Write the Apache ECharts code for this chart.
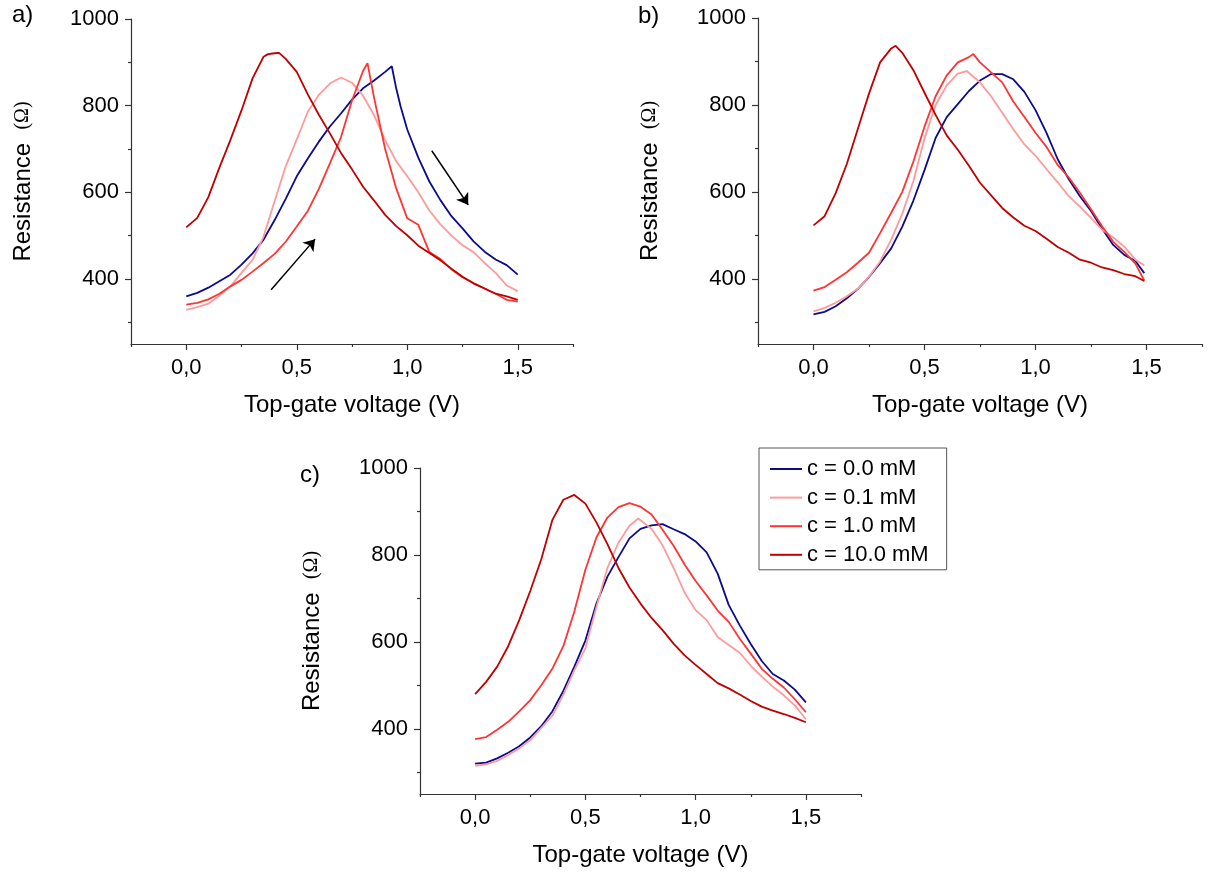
<!DOCTYPE html>
<html><head><meta charset="utf-8">
<script src="https://cdn.jsdelivr.net/npm/echarts@6/dist/echarts.min.js"></script>
<style>html,body{margin:0;padding:0;background:#fff}#c{width:1212px;height:872px}</style>
</head><body><div id="c"></div>
<script>
const seriesNames = ['c = 0.0 mM', 'c = 0.1 mM', 'c = 1.0 mM', 'c = 10.0 mM'];
const seriesColors = ['#0b0b8c', '#ff9a9a', '#ff3434', '#c00000'];
const panelLabels = ['a)', 'b)', 'c)'];
const xTitle = 'Top-gate voltage (V)';
const yTitle = 'Resistance';
const yUnit = '(Ω)';
const xMajorTicks = [0, 0.5, 1, 1.5];
const xMinorTicks = [-0.25, 0.25, 0.75, 1.25, 1.75];
const yMajorTicks = [400, 600, 800, 1000];
const yMinorTicks = [300, 500, 700, 900];

// Panel a) : [voltage, resistance]
const a_c00 = [[0,360],[0.05,368],[0.1,380],[0.15,395],[0.2,410],[0.25,433],[0.3,459],[0.35,491],[0.4,536],[0.45,585],[0.5,637],[0.55,678],[0.6,717],[0.65,752],[0.7,782],[0.75,814],[0.8,840],[0.85,858],[0.9,878],[0.93,891],[0.95,840],[0.97,798],[1.0,745],[1.05,680],[1.1,625],[1.15,582],[1.2,545],[1.25,517],[1.3,487],[1.35,463],[1.4,445],[1.45,432],[1.5,410]];
const a_c01 = [[0,329],[0.05,335],[0.1,343],[0.15,362],[0.2,383],[0.25,414],[0.3,444],[0.35,498],[0.4,580],[0.45,660],[0.5,722],[0.55,786],[0.6,825],[0.65,851],[0.7,865],[0.75,853],[0.8,823],[0.85,778],[0.9,720],[0.95,672],[1.0,637],[1.05,600],[1.1,558],[1.15,526],[1.2,500],[1.25,478],[1.3,462],[1.35,437],[1.4,414],[1.45,385],[1.5,372]];
const a_c10 = [[0,341],[0.05,345],[0.1,353],[0.15,366],[0.2,383],[0.25,398],[0.3,417],[0.35,437],[0.4,458],[0.45,486],[0.5,521],[0.55,557],[0.6,608],[0.65,667],[0.7,727],[0.75,812],[0.8,880],[0.82,898],[0.85,818],[0.9,700],[0.95,609],[1.0,540],[1.05,525],[1.1,462],[1.15,446],[1.2,422],[1.25,404],[1.3,390],[1.35,378],[1.4,366],[1.45,352],[1.5,348]];
const a_c100 = [[0,519],[0.05,541],[0.1,589],[0.15,657],[0.2,721],[0.25,789],[0.3,863],[0.35,913],[0.37,919],[0.4,921],[0.42,922],[0.45,908],[0.5,878],[0.55,826],[0.6,779],[0.65,736],[0.7,691],[0.75,653],[0.8,613],[0.85,581],[0.9,548],[0.95,522],[1.0,501],[1.05,477],[1.1,460],[1.15,443],[1.2,424],[1.25,405],[1.3,390],[1.35,378],[1.4,366],[1.45,360],[1.5,352]];

// Panel b)
const b_c00 = [[0,318],[0.05,324],[0.1,337],[0.15,355],[0.2,377],[0.25,404],[0.3,436],[0.35,470],[0.4,520],[0.45,580],[0.5,650],[0.55,724],[0.6,772],[0.65,802],[0.7,832],[0.75,856],[0.8,871],[0.85,871],[0.9,859],[0.95,830],[1.0,788],[1.05,735],[1.1,675],[1.15,629],[1.2,590],[1.25,556],[1.3,515],[1.35,478],[1.4,455],[1.45,441],[1.49,413]];
const b_c01 = [[0,325],[0.05,333],[0.1,345],[0.15,360],[0.2,377],[0.25,405],[0.3,440],[0.35,490],[0.4,550],[0.45,625],[0.5,723],[0.55,800],[0.6,845],[0.65,872],[0.69,878],[0.75,852],[0.8,820],[0.85,782],[0.9,744],[0.95,709],[1.0,683],[1.05,652],[1.1,622],[1.15,590],[1.2,566],[1.25,540],[1.3,513],[1.35,495],[1.4,474],[1.45,444],[1.49,431]];
const b_c10 = [[0,373],[0.05,381],[0.1,398],[0.15,415],[0.2,437],[0.25,460],[0.3,505],[0.35,552],[0.4,600],[0.45,670],[0.5,750],[0.55,820],[0.6,868],[0.65,898],[0.7,910],[0.72,917],[0.75,898],[0.8,875],[0.85,852],[0.9,808],[0.95,772],[1.0,736],[1.05,703],[1.1,662],[1.15,633],[1.2,598],[1.25,560],[1.3,521],[1.35,485],[1.4,462],[1.45,435],[1.49,396]];
const b_c100 = [[0,523],[0.05,544],[0.1,597],[0.15,664],[0.2,745],[0.25,826],[0.3,898],[0.35,930],[0.37,936],[0.4,920],[0.45,880],[0.5,828],[0.55,777],[0.6,730],[0.65,697],[0.7,660],[0.75,621],[0.8,592],[0.85,563],[0.9,541],[0.95,522],[1.0,510],[1.05,492],[1.1,473],[1.15,460],[1.2,444],[1.25,437],[1.3,426],[1.35,420],[1.4,411],[1.45,406],[1.49,395]];

// Panel c)
const c_c00 = [[0,320],[0.05,322],[0.1,332],[0.15,345],[0.2,360],[0.25,380],[0.3,406],[0.35,440],[0.4,487],[0.45,543],[0.5,603],[0.55,688],[0.6,750],[0.65,795],[0.7,838],[0.75,860],[0.8,868],[0.85,871],[0.9,859],[0.95,848],[1.0,831],[1.05,806],[1.1,757],[1.15,685],[1.2,638],[1.25,595],[1.3,556],[1.35,526],[1.4,511],[1.45,490],[1.5,461]];
const c_c01 = [[0,315],[0.05,318],[0.1,326],[0.15,340],[0.2,355],[0.25,374],[0.3,402],[0.35,430],[0.4,478],[0.45,535],[0.5,585],[0.55,680],[0.6,770],[0.65,828],[0.7,867],[0.74,884],[0.8,860],[0.85,822],[0.9,770],[0.95,713],[1.0,673],[1.05,650],[1.1,611],[1.15,593],[1.2,575],[1.25,545],[1.3,520],[1.35,497],[1.4,477],[1.45,454],[1.5,422]];
const c_c10 = [[0,376],[0.05,381],[0.1,398],[0.15,416],[0.2,440],[0.25,466],[0.3,500],[0.35,538],[0.4,590],[0.45,670],[0.5,766],[0.55,840],[0.6,886],[0.65,910],[0.7,919],[0.75,911],[0.8,893],[0.85,858],[0.9,821],[0.95,778],[1.0,740],[1.05,707],[1.1,672],[1.15,646],[1.2,607],[1.25,573],[1.3,538],[1.35,515],[1.4,495],[1.45,468],[1.5,438]];
const c_c100 = [[0,480],[0.05,508],[0.1,543],[0.15,590],[0.2,650],[0.25,717],[0.3,790],[0.35,880],[0.4,927],[0.45,938],[0.5,918],[0.55,875],[0.6,825],[0.65,770],[0.7,725],[0.75,688],[0.8,655],[0.85,627],[0.9,596],[0.95,569],[1.0,547],[1.05,526],[1.1,505],[1.15,493],[1.2,479],[1.25,464],[1.3,451],[1.35,442],[1.4,434],[1.45,425],[1.5,415]];

// Sweep-direction arrows in panel a): [start, end] in data units
const arrowsA = [[[0.384, 375], [0.583, 492]], [[1.111, 696], [1.276, 571]]];

const panelData = [
  [a_c00, a_c01, a_c10, a_c100],
  [b_c00, b_c01, b_c10, b_c100],
  [c_c00, c_c01, c_c10, c_c100]
];

const FONT = "'Liberation Sans', Arial, sans-serif";
const rects = [
  {left: 131, top: 19, width: 442, height: 325},
  {left: 758, top: 18, width: 444, height: 326},
  {left: 420, top: 468, width: 441, height: 326}
];
const labelPos = [{left: 12, top: 3}, {left: 638, top: 4}, {left: 300, top: 463}];

const axisColor = '#333';
const grids = [], xAxes = [], yAxes = [], series = [], titles = [];
const fmtX = v => v.toFixed(1).replace('.', ',');
const fmtY = v => String(Math.round(v));

rects.forEach((r, p) => {
  grids.push(Object.assign({}, r, {containLabel: false}));
  grids.push(Object.assign({}, r, {containLabel: false}));
  xAxes.push({
    type: 'value', gridIndex: 2 * p, min: -0.25, max: 1.75, position: 'bottom',
    axisLine: {show: true, onZero: false, lineStyle: {color: axisColor, width: 1.2}},
    axisTick: {show: true, length: 6, customValues: xMajorTicks, lineStyle: {color: axisColor, width: 1.2}},
    axisLabel: {customValues: xMajorTicks, formatter: fmtX, fontSize: 22, color: '#000', fontFamily: FONT, margin: 13},
    splitLine: {show: false},
    name: xTitle, nameLocation: 'middle', nameGap: 49,
    nameTextStyle: {fontSize: 24, color: '#000', fontFamily: FONT}
  });
  xAxes.push({
    type: 'value', gridIndex: 2 * p + 1, min: -0.25, max: 1.75, position: 'bottom',
    axisLine: {show: false, onZero: false},
    axisTick: {show: true, length: 3, customValues: xMinorTicks, lineStyle: {color: axisColor, width: 1.2}},
    axisLabel: {show: false}, splitLine: {show: false}
  });
  yAxes.push({
    type: 'value', gridIndex: 2 * p, min: 250, max: 1000, position: 'left',
    axisLine: {show: true, onZero: false, lineStyle: {color: axisColor, width: 1.2}},
    axisTick: {show: true, length: 6, customValues: yMajorTicks, lineStyle: {color: axisColor, width: 1.2}},
    axisLabel: {customValues: yMajorTicks, formatter: fmtY, fontSize: 22, color: '#000', fontFamily: FONT, margin: 12},
    splitLine: {show: false},
    name: yTitle + '  {u|' + yUnit + '}', nameLocation: 'middle', nameGap: 96,
    nameTextStyle: {fontSize: 24, color: '#000', fontFamily: FONT,
      rich: {u: {fontSize: 20, color: '#000', fontFamily: "'Liberation Serif', serif"}}}
  });
  yAxes.push({
    type: 'value', gridIndex: 2 * p + 1, min: 250, max: 1000, position: 'left',
    axisLine: {show: false, onZero: false},
    axisTick: {show: true, length: 3, customValues: yMinorTicks, lineStyle: {color: axisColor, width: 1.2}},
    axisLabel: {show: false}, splitLine: {show: false}
  });
  titles.push(Object.assign({text: panelLabels[p], padding: 0,
    textStyle: {fontSize: 24, fontWeight: 'normal', color: '#000', fontFamily: FONT}}, labelPos[p]));
  panelData[p].forEach((d, k) => {
    const s = {
      type: 'line', name: seriesNames[k], xAxisIndex: 2 * p, yAxisIndex: 2 * p,
      data: d, symbol: 'none', showSymbol: false, animation: false, z: 2 + k,
      lineStyle: {color: seriesColors[k], width: 1.8}, itemStyle: {color: seriesColors[k]}
    };
    if (p === 0 && k === 0) {
      s.markLine = {
        silent: true, animation: false, symbol: ['none', 'arrow'], symbolSize: 11,
        label: {show: false},
        lineStyle: {color: '#000', width: 1.5, type: 'solid'},
        data: arrowsA.map(a => [{coord: a[0]}, {coord: a[1]}])
      };
    }
    series.push(s);
  });
});

const chart = echarts.init(document.getElementById('c'), null, {renderer: 'canvas'});
chart.setOption({
  animation: false,
  backgroundColor: '#fff',
  title: titles,
  grid: grids, xAxis: xAxes, yAxis: yAxes, series: series,
  legend: {
    data: seriesNames.map((n, k) => ({name: n, icon: 'rect', itemStyle: {color: seriesColors[k], borderWidth: 0}})),
    orient: 'vertical', left: 759, top: 448,
    padding: [10, 18, 4, 11], itemWidth: 32, itemHeight: 2, itemGap: 6.6,
    borderColor: '#555', borderWidth: 1, backgroundColor: '#fff',
    selectedMode: false,
    textStyle: {fontSize: 22, color: '#000', fontFamily: FONT}
  }
});
</script></body></html>
